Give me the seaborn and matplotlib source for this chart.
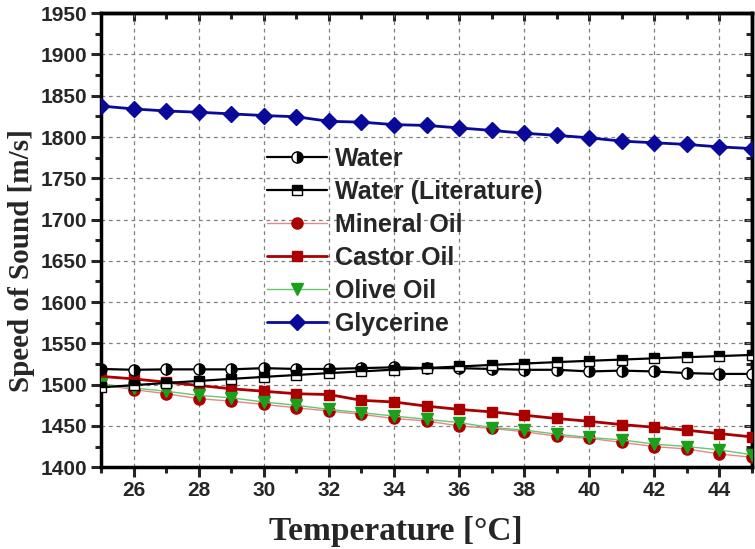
import numpy as np
import pandas as pd
import matplotlib
matplotlib.use("Agg")
import matplotlib.pyplot as plt
import seaborn as sns
from matplotlib.ticker import MultipleLocator

# temperature in deg C
temperature = list(range(25, 46))

water = [1519, 1518, 1518.5, 1518.5, 1518.5, 1520, 1519, 1519, 1520, 1521, 1520,
         1520, 1519, 1518, 1518, 1516, 1517, 1516, 1514, 1513, 1513]
water_lit = [1496.7, 1499.4, 1502.0, 1504.5, 1507.0, 1509.4, 1511.7, 1514.0, 1516.0, 1518.2, 1520.1,
             1522.0, 1523.9, 1525.6, 1527.3, 1528.9, 1530.4, 1531.9, 1533.3, 1534.6, 1536.0]
mineral_oil = [1500, 1494, 1489, 1483, 1480, 1476, 1472, 1468, 1464, 1459, 1456,
               1450, 1447, 1443, 1437.5, 1435, 1430, 1425, 1422, 1416, 1412]
castor_oil = [1510, 1507, 1503, 1499, 1495, 1492, 1489, 1488, 1481, 1479, 1474,
              1470, 1467, 1463, 1459, 1455.6, 1451.6, 1448.4, 1444.8, 1440.7, 1436.7]
olive_oil = [1501, 1496, 1492, 1487, 1484, 1479, 1475, 1470, 1466, 1462, 1458,
             1454, 1448, 1445, 1440, 1436, 1433, 1428, 1425, 1421, 1415]
glycerine = [1837.5, 1834, 1831.5, 1830, 1828, 1826, 1824.5, 1819, 1818, 1815, 1814,
             1811, 1808, 1804.5, 1802, 1799, 1795, 1793, 1791, 1788, 1786]

sns.set_style("white")
plt.rcParams["font.family"] = ["Liberation Sans", "DejaVu Sans"]

fig = plt.figure(figsize=(7.55, 5.49), dpi=100)
ax = fig.add_axes([0.134, 0.149, 0.862, 0.827])

ms = 8
# Water: half filled circle
sns.lineplot(x=temperature, y=water, ax=ax, color="black", lw=1.6, marker="o", ms=ms,
             fillstyle="right", markerfacecolor="black", markerfacecoloralt="white",
             markeredgecolor="black", markeredgewidth=1, label="Water", zorder=5)
sns.lineplot(x=temperature, y=water_lit, ax=ax, color="black", lw=1.6, marker="s", ms=7.5,
             fillstyle="top", markerfacecolor="black", markerfacecoloralt="white",
             markeredgecolor="black", markeredgewidth=1, label="Water (Literature)", zorder=5)
sns.lineplot(x=temperature, y=mineral_oil, ax=ax, color="#e08a8a", lw=1.0, marker="o", ms=ms,
             markerfacecolor="#aa0000", markeredgecolor="#aa0000", markeredgewidth=1,
             label="Mineral Oil", zorder=3)
sns.lineplot(x=temperature, y=castor_oil, ax=ax, color="#aa0000", lw=2.0, marker="s", ms=7.5,
             markerfacecolor="#aa0000", markeredgecolor="#aa0000", markeredgewidth=1,
             label="Castor Oil", zorder=4)
sns.lineplot(x=temperature, y=olive_oil, ax=ax, color="#6cc46c", lw=1.0, marker="v", ms=9,
             markerfacecolor="#1aa01a", markeredgecolor="#1aa01a", markeredgewidth=1,
             label="Olive Oil", zorder=4)
sns.lineplot(x=temperature, y=glycerine, ax=ax, color="#0a0a9a", lw=2.0, marker="D", ms=8,
             markerfacecolor="#0a0a9a", markeredgecolor="#0a0a9a", markeredgewidth=1,
             label="Glycerine", zorder=4)

ax.set_xlim(25, 45)
ax.set_ylim(1400, 1950)
ax.xaxis.set_major_locator(MultipleLocator(2))
ax.xaxis.set_minor_locator(MultipleLocator(1))
ax.yaxis.set_major_locator(MultipleLocator(50))
ax.yaxis.set_minor_locator(MultipleLocator(25))
ax.set_xticks(range(26, 45, 2))

ax.grid(True, which="major", color="#808080", ls=(0, (3, 3)), lw=0.9)
for sp in ax.spines.values():
    sp.set_linewidth(2.5)
    sp.set_color("black")

ax.tick_params(which="major", direction="out", length=7, width=2.2, labelsize=15, pad=3,
               bottom=True, left=True, top=False, right=False)
ax.tick_params(which="minor", direction="out", length=4, width=2.2,
               bottom=True, left=True, top=False, right=False)
for lab in ax.get_xticklabels() + ax.get_yticklabels():
    lab.set_fontweight("bold")

# inward ticks on the top and right sides
top = ax.secondary_xaxis("top")
top.xaxis.set_major_locator(MultipleLocator(2))
top.xaxis.set_minor_locator(MultipleLocator(1))
top.tick_params(which="major", direction="in", length=6, width=2.2, labeltop=False)
top.tick_params(which="minor", direction="in", length=4, width=2.2)
top.spines["top"].set_linewidth(2.5)
right = ax.secondary_yaxis("right")
right.yaxis.set_major_locator(MultipleLocator(50))
right.yaxis.set_minor_locator(MultipleLocator(25))
right.tick_params(which="major", direction="in", length=6, width=2.2, labelright=False)
right.tick_params(which="minor", direction="in", length=4, width=2.2)
right.spines["right"].set_linewidth(2.5)

ax.set_xlabel("Temperature [°C]", fontfamily="Liberation Serif", fontweight="bold",
              fontsize=24)
ax.set_ylabel("Speed of Sound [m/s]", fontfamily="Liberation Serif", fontweight="bold",
              fontsize=21)
ax.xaxis.set_label_coords(0.452, -0.108)
ax.yaxis.set_label_coords(-0.102, 0.456)

leg = ax.legend(loc="upper left", bbox_to_anchor=(0.255, 0.705), frameon=False,
                prop={"weight": "bold", "size": 18}, handlelength=2.4,
                labelspacing=0.36, handletextpad=0.3, borderaxespad=0, borderpad=0)

fig.savefig("out.png", dpi=100)
